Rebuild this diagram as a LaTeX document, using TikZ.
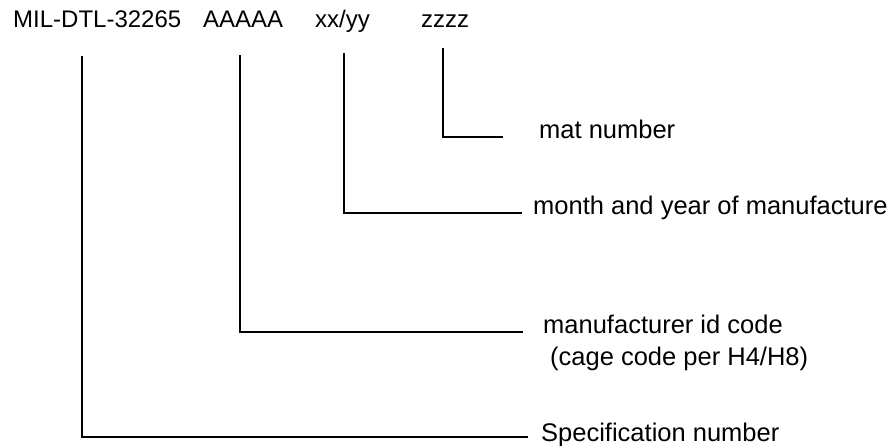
\documentclass[tikz,border=0pt]{standalone}
\usepackage{fontspec}
\setmainfont{Liberation Sans}
\begin{document}
\begin{tikzpicture}[x=1pt,y=-1pt,
  codetext/.style={anchor=base west,inner sep=0pt,font=\fontsize{24}{28}\selectfont},
  labeltext/.style={anchor=base west,inner sep=0pt,font=\fontsize{25.5}{30}\selectfont},
  leader/.style={draw=black,line width=1.6pt}]
\useasboundingbox (0,0) rectangle (893,445);

% marking string
\node[codetext] (spec)  at (13,27)  {MIL-DTL-32265};
\node[codetext] (manuf) at (203,27) {AAAAA};
\node[codetext] (date)  at (315,27) {xx/yy};
\node[codetext] (mat)   at (421,27) {zzzz};

% field descriptions
\node[labeltext] (matlbl)   at (539,138) {mat number};
\node[labeltext] (datelbl)  at (533,214) {month and year of manufacture};
\node[labeltext] (manlbl)   at (543,333) {manufacturer id code};
\node[labeltext] (cagelbl)  at (550,365) {(cage code per H4/H8)};
\node[labeltext] (speclbl)  at (541,441) {Specification number};

% leader start points under each field and end points before each label
\coordinate (matTop)   at (443,48);
\coordinate (dateTop)  at (344,53);
\coordinate (manTop)   at (240,55);
\coordinate (specTop)  at (82,56);
\coordinate (matEnd)   at (503,137);
\coordinate (dateEnd)  at (522,213);
\coordinate (manEnd)   at (523,332);
\coordinate (specEnd)  at (528,437);

\draw[leader] (matTop)  |- (matEnd);
\draw[leader] (dateTop) |- (dateEnd);
\draw[leader] (manTop)  |- (manEnd);
\draw[leader] (specTop) |- (specEnd);
\end{tikzpicture}
\end{document}
